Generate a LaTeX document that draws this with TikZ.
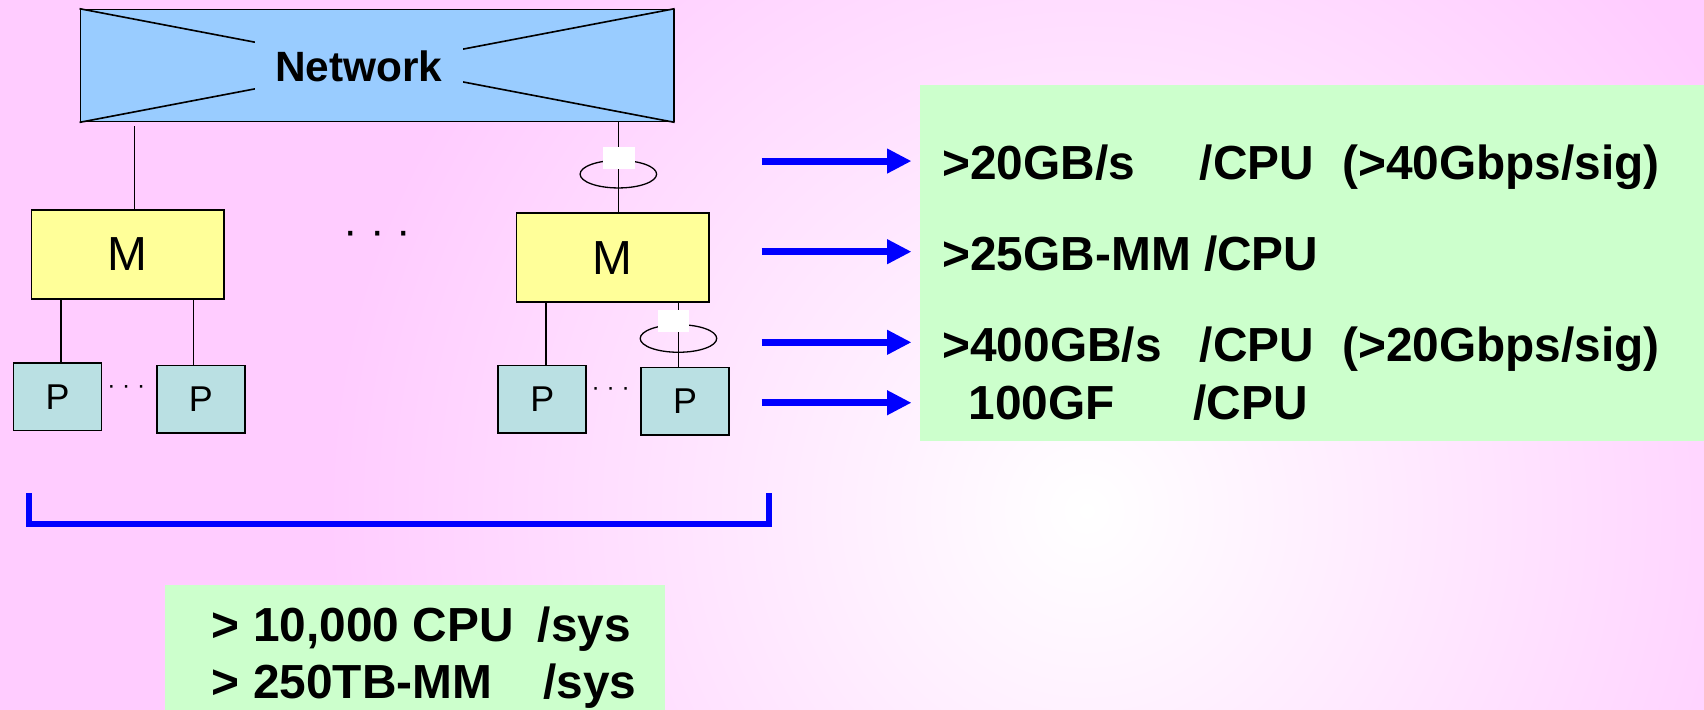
\documentclass[tikz,border=0pt]{standalone}
\usepackage{fontspec}
\setmainfont{Liberation Sans}
\usetikzlibrary{arrows.meta,positioning,calc}
\definecolor{BgPink}{HTML}{FFCCFF}
\definecolor{NetBlue}{HTML}{99CCFF}
\definecolor{MemYellow}{HTML}{FFFF99}
\definecolor{ProcCyan}{HTML}{BAE0E3}
\definecolor{SpecGreen}{HTML}{CCFFCC}
\definecolor{LinkBlue}{HTML}{0000FF}

\begin{document}
\begin{tikzpicture}[x=1pt,y=-1pt,
    netbox/.style={rectangle,draw=black,line width=1.6pt,fill=NetBlue,minimum width=546pt,minimum height=103pt,inner sep=0pt},
    netlabel/.style={rectangle,fill=NetBlue,minimum width=191pt,minimum height=48pt,inner sep=0pt,font=\fontsize{39}{44}\selectfont\bfseries},
    membox/.style={rectangle,draw=black,line width=1.5pt,fill=MemYellow,minimum width=177pt,minimum height=82pt,inner sep=0pt,font=\fontsize{44}{50}\selectfont},
    procbox/.style={rectangle,draw=black,line width=1.5pt,fill=ProcCyan,minimum width=81pt,minimum height=62pt,inner sep=0pt,font=\fontsize{33}{38}\selectfont},
    patch/.style={rectangle,fill=white,minimum width=29pt,minimum height=20.5pt,inner sep=0pt},
    wire/.style={line width=1.2pt},
    ring/.style={line width=1.2pt},
    dotsrow/.style={inner sep=0pt},
    specbox/.style={rectangle,fill=SpecGreen,inner sep=0pt},
    spec/.style={anchor=base west,inner sep=0pt,font=\fontsize{44}{50}\selectfont\bfseries},
    arrow/.style={-{Triangle[length=22.6pt,width=21.5pt]},line width=6.5pt,draw=LinkBlue},
    bracket/.style={line width=5.5pt,draw=LinkBlue,line join=miter}
]
\useasboundingbox (0,0) rectangle (1568,653);
\fill[BgPink] (0,0) rectangle (1568,653);
\begin{scope}
\clip (0,0) rectangle (1568,653);
\shade[inner color=white,outer color=BgPink] (1000,470) circle (700);
\end{scope}

\node[netbox] (net) at (347,60.3) {};
\draw[line width=1.5pt] (net.north west) -- (net.south east) (net.north east) -- (net.south west);
\node[netlabel] (netname) at (330.2,61) {Network};

\node[membox] (mleft) at (117.5,234.1) {M};
\node[membox] (mright) at (563.8,237) {M};
\node[dotsrow,font=\fontsize{40}{44}\selectfont] (mdots) at (347.5,219) {· · ·};

\node[procbox] (p1) at (53,365.3) {P};
\node[procbox] (p2) at (184.9,367.4) {P};
\node[procbox] (p3) at (499,367.2) {P};
\node[procbox] (p4) at (630.5,369) {P};
\node[dotsrow,font=\fontsize{22.5}{26}\selectfont] (pdotsl) at (116.2,358) {· · ·};
\node[dotsrow,font=\fontsize{22.5}{26}\selectfont] (pdotsr) at (562,360) {· · ·};

\coordinate (upl) at ([xshift=6.3pt]mleft.north);
\coordinate (upr) at ([xshift=5.2pt]mright.north);
\draw[wire,shorten >=3pt] (upl) -- (upl |- net.south);
\draw[wire] (upr) -- (upr |- net.south);
\draw[ring] ([yshift=35pt]upr) ellipse [x radius=35.2pt,y radius=12.7pt];
\node[patch] (gapup) at (569.7,145.2) {};

\coordinate (dl1) at ([xshift=-61.4pt]mleft.south);
\coordinate (dl2) at ([xshift=60.7pt]mleft.south);
\coordinate (dr1) at ([xshift=-61.3pt]mright.south);
\coordinate (dr2) at ([xshift=60.5pt]mright.south);
\draw[wire] (dl1) -- (dl1 |- p1.north);
\draw[wire] (dl2) -- (dl2 |- p2.north);
\draw[wire] (dr1) -- (dr1 |- p3.north);
\draw[wire] (dr2) -- (dr2 |- p4.north);
\draw[ring] ([yshift=-32.7pt]dr2) ellipse [x radius=35.2pt,y radius=12.7pt];
\node[patch,minimum width=28.5pt] (gapdown) at (620,295.5) {};

\node[specbox,minimum width=721.4pt,minimum height=327.3pt] (specs) at (1207.3,241.85) {};
\node[spec] (bwnet) at (867,165.6) {\makebox[237pt][l]{>20GB/s}\makebox[131pt][l]{/CPU}(>40Gbps/sig)};
\node[spec] (memcpu) at (867,248.5) {>25GB-MM /CPU};
\node[spec] (bwmem) at (867,332.8) {\makebox[237pt][l]{>400GB/s}\makebox[131pt][l]{/CPU}(>20Gbps/sig)};
\node[spec] (flops) at (891,385.6) {\makebox[207pt][l]{100GF}/CPU};

\coordinate (arr1) at (700.8,148.2);
\coordinate (arr2) at (700.8,231.6);
\coordinate (arr3) at (700.8,315);
\coordinate (arr4) at (700.8,370.6);
\draw[arrow,shorten >=7.6pt] (arr1) -- (arr1 -| specs.west);
\draw[arrow,shorten >=7.6pt] (arr2) -- (arr2 -| specs.west);
\draw[arrow,shorten >=7.6pt] (arr3) -- (arr3 -| specs.west);
\draw[arrow,shorten >=7.6pt] (arr4) -- (arr4 -| specs.west);

\coordinate (brl) at (26.7,453.9);
\coordinate (brr) at (708,453.9);
\draw[bracket] (brl) -- ++(0,28.3) -| (brr);

\node[specbox,minimum width=460.2pt,minimum height=114.7pt] (sys) at (381.7,595.65) {};
\node[spec] (cpusys) at (194.8,590.5) {\makebox[300pt][l]{> 10,000 CPU}/sys};
\node[spec] (memsys) at (194.8,642.5) {\makebox[305pt][l]{> 250TB-MM}/sys};
\end{tikzpicture}
\end{document}
